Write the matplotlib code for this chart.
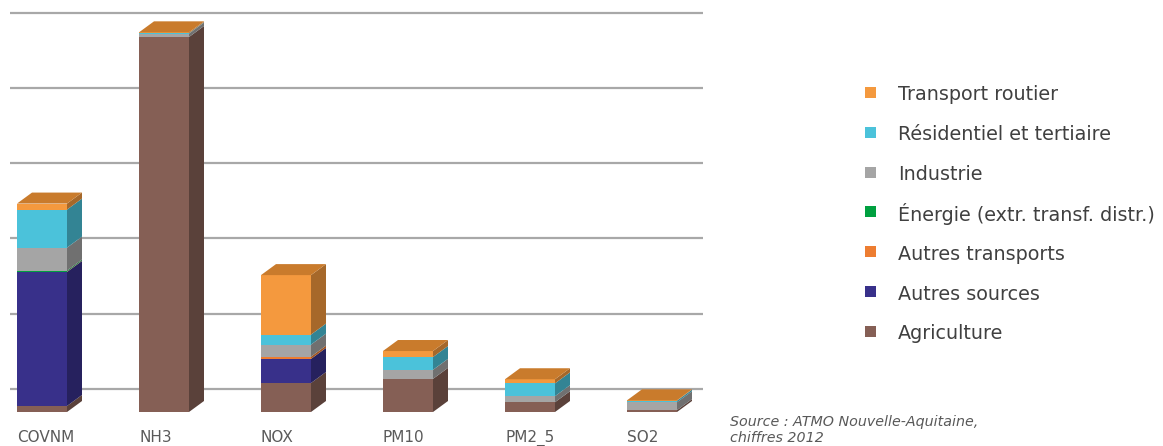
import matplotlib
matplotlib.use("Agg")
import matplotlib.pyplot as plt
from matplotlib.patches import Polygon, Rectangle
from matplotlib.colors import to_rgb
import numpy as np

# ---------------- data ----------------
categories = ["COVNM", "NH3", "NOX", "PM10", "PM2_5", "SO2"]
# stacking order bottom -> top
series_names = ["Agriculture", "Autres sources", "Autres transports",
                "Énergie (extr. transf. distr.)", "Industrie",
                "Résidentiel et tertiaire", "Transport routier"]
agriculture        = [0.8, 49.8, 3.85, 4.4, 1.3, 0.25]
autres_sources     = [17.8, 0.0, 3.2, 0.0, 0.0, 0.0]
autres_transports  = [0.05, 0.0, 0.3, 0.0, 0.0, 0.0]
energie            = [0.13, 0.0, 0.0, 0.0, 0.0, 0.0]
industrie          = [3.05, 0.45, 1.6, 1.2, 0.8, 1.05]
residentiel        = [5.05, 0.05, 1.33, 1.7, 1.7, 0.2]
transport_routier  = [0.8, 0.12, 7.9, 0.8, 0.55, 0.05]
series_values = [agriculture, autres_sources, autres_transports, energie,
                 industrie, residentiel, transport_routier]
series_colors = ["#855F55", "#38308A", "#ED7D31", "#00A040",
                 "#A5A5A5", "#4BC2DA", "#F4993E"]
legend_order = ["Transport routier", "Résidentiel et tertiaire", "Industrie",
                "Énergie (extr. transf. distr.)", "Autres transports",
                "Autres sources", "Agriculture"]
grid_values = [0, 10, 20, 30, 40, 50]
source_text = "Source : ATMO Nouvelle-Aquitaine,\nchiffres 2012"

# ---------------- figure ----------------
W, H = 1163, 446
fig = plt.figure(figsize=(W / 100, H / 100), dpi=100)
fig.patch.set_facecolor("white")

ax_left_px, ax_right_px = 10, 703
base_px = 412          # front baseline (px from top)
px_per_unit = 7.53
cat_step_px = 122
first_center_px = 42
ax = fig.add_axes([ax_left_px / W, (H - base_px) / H,
                   (ax_right_px - ax_left_px) / W, base_px / H])
ax.set_xlim((ax_left_px - first_center_px) / cat_step_px,
            (ax_right_px - first_center_px) / cat_step_px)
ax.set_ylim(0, base_px / px_per_unit)
ax.axis("off")

bar_w = 50 / cat_step_px
dx = 15 / cat_step_px
dy = 11 / px_per_unit
wall_off = 23 / px_per_unit

for g in grid_values:
    ax.axhline(g + wall_off, color="#A8A8A8", lw=1.6, zorder=0)


def shade(c, f):
    r, g_, b = to_rgb(c)
    return (r * f, g_ * f, b * f)


x = np.arange(len(categories))
bottoms = np.zeros(len(categories))
for vals, col in zip(series_values, series_colors):
    vals = np.array(vals, dtype=float)
    ax.bar(x, vals, bottom=bottoms, width=bar_w, color=col, lw=0, zorder=2)
    for i in range(len(categories)):
        if vals[i] <= 0:
            continue
        xr = x[i] + bar_w / 2
        y0, y1 = bottoms[i], bottoms[i] + vals[i]
        side = Polygon([(xr, y0), (xr + dx, y0 + dy), (xr + dx, y1 + dy), (xr, y1)],
                       closed=True, facecolor=shade(col, 0.68), lw=0, zorder=2)
        ax.add_patch(side)
    bottoms = bottoms + vals

# top faces
for i in range(len(categories)):
    xl = x[i] - bar_w / 2
    xr = x[i] + bar_w / 2
    yt = bottoms[i]
    top = Polygon([(xl, yt), (xr, yt), (xr + dx, yt + dy), (xl + dx, yt + dy)],
                  closed=True, facecolor="#C97B2C", lw=0, zorder=3)
    ax.add_patch(top)

# category labels (left aligned with bar front)
for i, c in enumerate(categories):
    ax.text(x[i] - bar_w / 2, -26 / px_per_unit, c, ha="left", va="center",
            fontsize=11, color="#5A5A5A", family="DejaVu Sans",
            clip_on=False)

# legend (manual)
name_to_color = dict(zip(series_names, series_colors))
row0, row_step = 95, 39.8
for k, name in enumerate(legend_order):
    yc = row0 + k * row_step
    fig.patches.append(Rectangle((865 / W, (H - (yc + 3)) / H), 11 / W, 11 / H,
                                 transform=fig.transFigure,
                                 facecolor=name_to_color[name], lw=0))
    fig.text(898 / W, (H - yc) / H, name, ha="left", va="center",
             fontsize=13.8, color="#404040", family="DejaVu Sans")

fig.text(730 / W, (H - 430) / H, source_text, ha="left", va="center",
         fontsize=10.3, color="#595959", style="italic", family="DejaVu Sans",
         linespacing=1.1)

fig.savefig("out.png", dpi=100)
